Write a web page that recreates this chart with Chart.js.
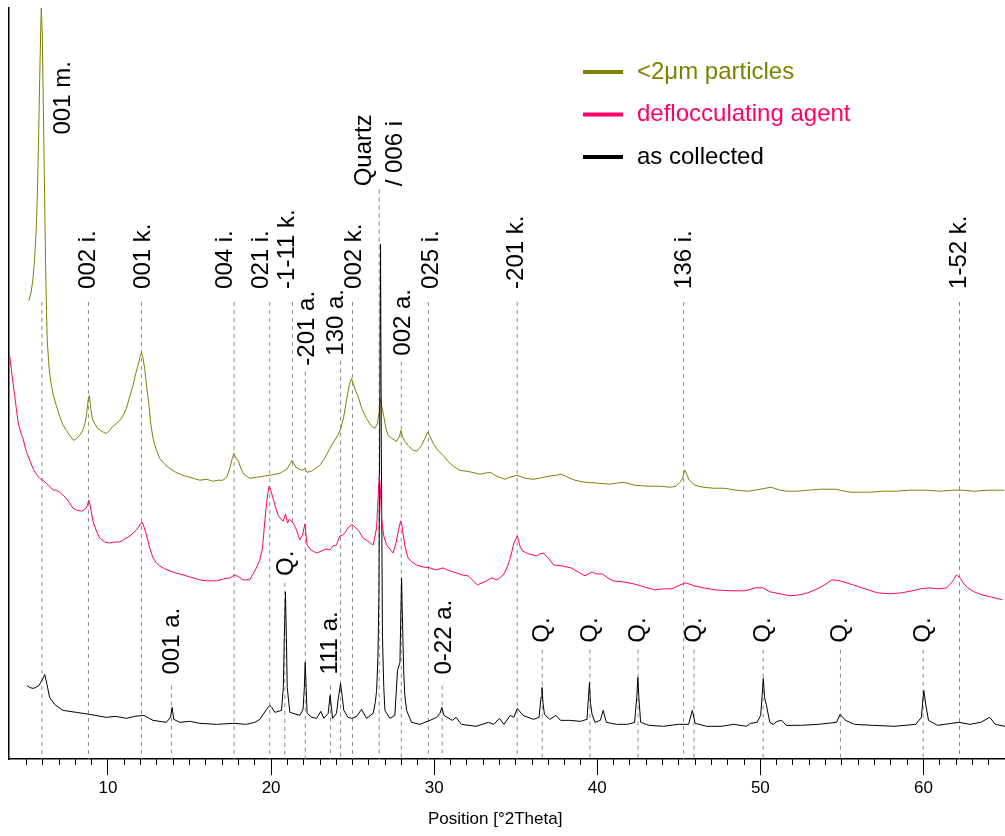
<!DOCTYPE html>
<html>
<head>
<meta charset="utf-8">
<script src="https://cdn.jsdelivr.net/npm/chart.js@4.4.1/dist/chart.umd.min.js"></script>
<style>
  html, body { margin: 0; padding: 0; background: #fff; }
</style>
</head>
<body>
<canvas id="xrd" width="1005" height="836"></canvas>
<script>
// diffraction patterns, position in °2Theta, intensity in arbitrary units (stacked offsets)
const olivePos = [5.15,5.29,5.40,5.50,5.60,5.67,5.75,5.81,5.87,5.91,
  5.97,6.03,6.09,6.15,6.20,6.27,6.39,6.53,6.67,6.83,
  7.04,7.22,7.45,7.65,7.90,8.08,8.26,8.45,8.60,8.71,
  8.80,8.86,8.94,9.04,9.18,9.37,9.55,9.74,9.92,10.10,
  10.29,10.53,10.72,10.93,11.13,11.33,11.53,11.70,11.84,11.98,
  12.05,12.13,12.25,12.37,12.50,12.62,12.76,12.93,13.17,13.48,
  13.79,14.15,14.58,15.01,15.63,16.06,16.42,16.73,17.04,17.28,
  17.47,17.62,17.73,17.83,17.98,18.14,18.33,18.69,19.12,19.49,
  19.92,20.29,20.53,20.75,20.96,21.15,21.29,21.39,21.52,21.76,
  21.94,22.07,22.19,22.48,22.74,22.99,23.29,23.60,23.85,24.09,
  24.28,24.46,24.64,24.80,24.93,25.04,25.20,25.34,25.56,25.85,
  26.12,26.36,26.52,26.61,26.70,26.79,26.91,27.04,27.18,27.40,
  27.69,27.87,27.96,28.05,28.20,28.45,28.71,28.94,29.23,29.43,
  29.60,29.74,29.94,30.23,30.55,30.84,31.17,31.58,31.99,32.31,
  32.80,33.42,33.85,34.34,34.64,35.07,35.56,36.06,36.48,36.98,
  37.47,37.77,38.20,38.63,39.25,40.10,40.78,41.58,42.31,43.11,
  43.85,44.46,44.83,45.07,45.23,45.35,45.44,45.63,45.99,46.49,
  47.10,47.77,48.51,49.25,49.98,50.66,51.21,51.64,52.25,52.93,
  53.66,54.58,55.50,56.24,56.73,57.53,58.26,59.18,60.17,61.02,
  61.88,62.37,63.11,63.97,64.95];
const oliveInt = [460,469,482,502,532,567,627,682,727,754,
  727,662,592,522,472,422,392,375,364,355,
  344,336,330,325,320,322,325,330,337,350,
  362,365,352,342,337,332,330,328,327,330,
  334,337,340,345,352,364,375,387,395,405,
  408,404,392,374,357,337,322,312,302,296,
  292,288,285,283,280,281,279,280,280,283,
  292,302,307,302,300,292,286,282,283,284,
  285,286,287,289,291,296,300,297,293,291,
  290,292,288,289,292,295,302,312,319,325,
  332,344,362,376,382,377,369,364,352,342,
  335,332,337,347,362,354,344,332,325,322,
  319,324,330,324,319,314,310,309,315,322,
  328,324,317,310,305,299,294,290,289,288,
  286,288,284,281,283,285,282,281,282,284,
  285,286,283,280,278,277,276,278,275,274,
  274,273,274,278,282,290,288,280,275,273,
  272,272,270,269,271,273,270,269,269,270,
  271,271,268,268,268,269,269,270,270,269,
  270,270,269,270,270];

const pinkPos = [3.97,4.07,4.18,4.28,4.38,4.48,4.61,4.79,4.89,4.99,
  5.20,5.40,5.61,5.81,6.01,6.22,6.42,6.63,6.83,7.04,
  7.24,7.45,7.65,7.85,8.08,8.37,8.51,8.67,8.75,8.83,
  8.91,9.08,9.29,9.49,9.80,10.10,10.41,10.72,11.02,11.33,
  11.53,11.74,11.91,12.09,12.19,12.36,12.56,12.76,12.97,13.17,
  13.48,13.79,14.15,14.60,15.01,15.63,16.12,16.65,17.10,17.47,
  17.77,18.02,18.28,18.69,19.10,19.31,19.47,19.58,19.67,19.80,
  19.88,19.98,20.12,20.29,20.43,20.60,20.74,20.88,21.01,21.12,
  21.25,21.39,21.56,21.76,21.93,22.07,22.21,22.44,22.79,23.11,
  23.36,23.60,23.79,24.01,24.21,24.40,24.52,24.71,24.89,25.03,
  25.20,25.38,25.64,25.93,26.26,26.47,26.56,26.63,26.70,26.77,
  26.91,27.08,27.28,27.48,27.69,27.80,27.94,28.02,28.10,28.23,
  28.40,28.63,28.92,29.31,29.74,30.10,30.55,30.96,31.37,31.70,
  32.09,32.64,33.11,33.50,33.85,34.24,34.46,34.67,34.89,35.10,
  35.26,35.42,35.81,36.27,36.48,36.69,36.98,37.33,37.83,38.40,
  38.82,39.25,39.68,39.92,40.32,40.66,40.96,41.58,42.24,42.87,
  43.52,44.03,44.58,45.07,45.44,45.93,46.50,47.22,48.21,49.06,
  49.67,50.13,50.60,51.21,51.83,52.44,52.90,53.36,53.85,54.39,
  54.89,55.67,56.42,57.17,57.96,58.66,59.31,59.80,60.36,60.90,
  61.43,61.76,62.02,62.25,62.44,62.71,63.11,63.56,64.09,64.84];
const pinkInt = [405,392,377,365,352,339,330,322,315,309,
  300,292,286,282,280,277,274,270,270,268,
  265,262,257,252,250,249,250,252,256,260,
  254,239,229,222,218,217,218,218,221,224,
  227,230,234,238,234,225,212,202,197,194,
  191,189,187,185,183,180,179,179,181,182,
  185,183,180,180,192,200,212,232,249,267,
  274,270,262,252,245,241,239,246,237,241,
  239,236,230,220,225,236,215,210,207,209,
  211,210,214,215,224,225,227,232,235,235,
  232,229,222,219,215,232,262,285,272,242,
  224,215,211,207,219,229,239,235,225,212,
  202,198,195,193,192,190,192,189,187,185,
  184,175,178,182,180,185,192,202,217,224,
  214,209,206,204,206,207,202,195,194,192,
  188,184,188,186,186,182,179,178,176,173,
  170,171,171,175,177,174,172,170,169,169,
  172,172,168,166,164,165,167,170,174,180,
  179,175,171,167,166,167,169,171,172,171,
  172,178,185,182,177,172,168,165,163,160];

const blackPos = [5.03,5.20,5.40,5.56,5.77,5.98,6.12,6.26,6.42,6.73,
  7.24,8.06,8.88,9.90,10.47,11.13,11.64,12.19,12.76,13.58,
  13.83,13.93,14.03,14.40,15.01,15.63,16.65,17.67,18.49,19.00,
  19.31,19.72,19.92,20.04,20.23,20.64,20.75,20.81,20.88,20.94,
  20.99,21.15,21.76,21.96,22.04,22.09,22.15,22.21,22.50,22.79,
  23.05,23.23,23.50,23.62,23.77,24.01,24.13,24.26,24.37,24.46,
  24.72,24.95,25.24,25.55,25.85,26.26,26.39,26.47,26.55,26.61,
  26.67,26.71,26.76,26.83,26.91,26.98,27.28,27.59,27.75,27.90,
  28.00,28.08,28.14,28.20,28.31,28.61,29.12,29.74,30.15,30.35,
  30.47,30.60,30.79,31.12,31.34,31.67,32.56,33.33,33.66,34.00,
  34.28,34.66,34.88,35.10,35.44,36.10,36.43,36.55,36.61,36.67,
  36.76,37.09,37.47,37.75,38.31,38.97,39.37,39.46,39.52,39.58,
  39.68,39.86,40.19,40.36,40.56,41.18,41.85,42.29,42.42,42.49,
  42.55,42.66,43.17,44.06,44.94,45.60,45.83,46.00,46.71,47.60,
  48.37,49.14,49.40,49.80,50.02,50.10,50.18,50.26,50.36,50.58,
  50.80,51.02,51.31,51.58,52.46,53.56,54.67,54.89,55.22,55.77,
  56.88,58.21,59.53,59.87,60.02,60.15,60.31,60.86,61.74,62.18,
  62.85,63.51,64.07,64.40,65.00];
const blackInt = [74,72,71,72,74,80,85,75,62,55,
  49,47,45,42,43,41,43,44,39,37,
  42,52,40,37,38,36,35,36,35,37,
  40,50,54,52,47,49,72,122,168,122,
  72,47,44,50,72,97,72,46,42,41,
  48,41,46,64,41,46,62,76,62,49,
  42,41,43,50,41,46,57,69,102,162,
  362,517,312,122,72,49,41,44,89,97,
  182,122,84,64,49,37,35,39,42,46,
  52,44,42,39,42,35,33,37,35,41,
  35,44,42,51,44,40,42,62,72,57,
  45,40,44,39,39,38,40,62,77,57,
  45,37,39,49,37,35,35,37,62,82,
  62,37,34,33,35,35,49,36,33,33,
  35,33,36,37,44,62,81,62,55,37,
  35,38,39,34,34,35,37,45,39,35,
  34,33,35,42,69,54,39,34,36,37,
  35,37,42,35,33];

// reflection markers (dashed lines): position, dash start, dash end
const refPos = [5.95,8.80,12.05,17.73,19.92,21.31,22.10,24.26,24.99,26.63,27.98,29.64,35.09,45.30,62.21,
  13.89,20.84,23.64,30.49,36.63,39.55,42.50,45.93,50.17,54.91,59.98];
const refTop = [459,459,459,459,459,459,389,400,459,572,399,459,459,459,459,
  74,177,74,74,110,110,110,110,110,110,110];
const refEnd = [0,0,0,0,0,235,0,0,0,0,0,0,0,0,0,
  0,0,0,0,0,0,0,0,0,0,0];

// reflection labels: text, anchor position and intensity where the text starts
const labelText = ['001 m.','002 i.','001 k.','004 i.','021 i.','-1-11 k.','-201 a.','130 a.','002 k.',
  'Quartz\n/ 006 i','002 a.','025 i.','-201 k.','136 i.','1-52 k.',
  '001 a.','Q.','111 a.','0-22 a.','Q.','Q.','Q.','Q.','Q.','Q.','Q.'];
const labelPos = [7.28,8.80,12.19,17.22,19.43,21.02,22.25,24.03,25.13,26.70,28.14,29.80,35.07,45.32,62.21,
  13.97,20.94,23.61,30.60,36.63,39.55,42.50,45.93,50.17,54.91,59.98];
const labelBase = [627,472,472,472,472,472,395,405,472,575,405,472,472,472,472,
  85,184,85,85,117,117,117,117,117,117,117];

const majorTicks = [10, 20, 30, 40, 50, 60];
const seriesNames = ['<2μm particles', 'deflocculating agent', 'as collected'];
const seriesColors = ['#808000', '#ff0066', '#000000'];

const X_MIN = 3.93;
const X_MAX = 65;
const Y_MAX = 754;
const FONT = '"Liberation Sans", Arial, Helvetica, sans-serif';

const minorTicks = [];
for (let v = 5; v < X_MAX; v++) minorTicks.push(v);

const toPoints = (xs, ys) => xs.map((x, i) => ({ x, y: ys[i] }));

const refPoints = [];
refPos.forEach((x, i) => {
  refPoints.push({ x, y: refTop[i] }, { x, y: refEnd[i] }, { x, y: null });
});

const peakLabels = {
  id: 'peakLabels',
  afterDatasetsDraw(chart) {
    const { ctx } = chart;
    const xs = chart.scales.x;
    const ys = chart.scales.y;
    ctx.save();
    ctx.font = '24px ' + FONT;
    ctx.fillStyle = '#000';
    ctx.textAlign = 'left';
    ctx.textBaseline = 'middle';
    labelText.forEach((text, i) => {
      const lines = text.split('\n');
      ctx.save();
      ctx.translate(xs.getPixelForValue(labelPos[i]), ys.getPixelForValue(labelBase[i]));
      ctx.rotate(-Math.PI / 2);
      lines.forEach((ln, j) => ctx.fillText(ln, 0, (j - (lines.length - 1) / 2) * 31));
      ctx.restore();
    });
    ctx.restore();
  },
};

const insideLegend = {
  id: 'insideLegend',
  afterDraw(chart) {
    const { ctx } = chart;
    ctx.save();
    ctx.font = '24px ' + FONT;
    ctx.textBaseline = 'middle';
    ctx.textAlign = 'left';
    seriesNames.forEach((name, i) => {
      const yy = 72 + i * 42.5;
      ctx.strokeStyle = seriesColors[i];
      ctx.lineWidth = 4;
      ctx.beginPath();
      ctx.moveTo(583, yy);
      ctx.lineTo(623, yy);
      ctx.stroke();
      ctx.fillStyle = seriesColors[i];
      ctx.fillText(name, 637, yy);
    });
    ctx.restore();
  },
};

const lineStyle = { borderWidth: 1, pointRadius: 0, tension: 0, fill: false };

new Chart(document.getElementById('xrd'), {
  type: 'line',
  data: {
    datasets: [
      { label: seriesNames[1], data: toPoints(pinkPos, pinkInt), borderColor: seriesColors[1], order: 0, ...lineStyle },
      { label: seriesNames[2], data: toPoints(blackPos, blackInt), borderColor: seriesColors[2], order: 1, ...lineStyle },
      { label: seriesNames[0], data: toPoints(olivePos, oliveInt), borderColor: seriesColors[0], order: 2, ...lineStyle },
      { label: 'reflections', data: refPoints, borderColor: '#8a8a8a', borderDash: [4, 4], spanGaps: false, order: 3, ...lineStyle },
    ],
  },
  options: {
    responsive: false,
    devicePixelRatio: 1,
    animation: false,
    events: [],
    layout: { padding: { left: 9, top: 8, right: 0, bottom: 2 } },
    plugins: { legend: { display: false }, tooltip: { enabled: false } },
    scales: {
      x: {
        type: 'linear',
        position: 'bottom',
        min: X_MIN,
        max: X_MAX,
        afterBuildTicks: (s) => { s.ticks = majorTicks.map((v) => ({ value: v })); },
        ticks: { color: '#000', font: { family: FONT, size: 17 }, padding: 3, maxRotation: 0, autoSkip: false },
        grid: { display: true, drawOnChartArea: false, drawTicks: true, tickLength: 16, tickColor: '#000', tickWidth: 1 },
        border: { display: true, color: '#000', width: 1.5 },
        // trailing spaces nudge the centred title a little left, as in the original
        title: { display: true, text: 'Position [°2Theta]     ', color: '#000', font: { family: FONT, size: 17 }, padding: { top: 8, bottom: 4 } },
      },
      xMinor: {
        type: 'linear',
        axis: 'x',
        position: { y: 0 },
        min: X_MIN,
        max: X_MAX,
        afterBuildTicks: (s) => { s.ticks = minorTicks.map((v) => ({ value: v })); },
        ticks: { display: false },
        grid: { display: true, drawOnChartArea: false, drawTicks: true, tickLength: 6, tickColor: '#000', tickWidth: 1 },
        border: { display: false },
      },
      y: {
        type: 'linear',
        min: 0,
        max: Y_MAX,
        ticks: { display: false },
        grid: { display: false, drawTicks: false },
        border: { display: true, color: '#000', width: 1.5 },
      },
    },
  },
  plugins: [peakLabels, insideLegend],
});
</script>
</body>
</html>
